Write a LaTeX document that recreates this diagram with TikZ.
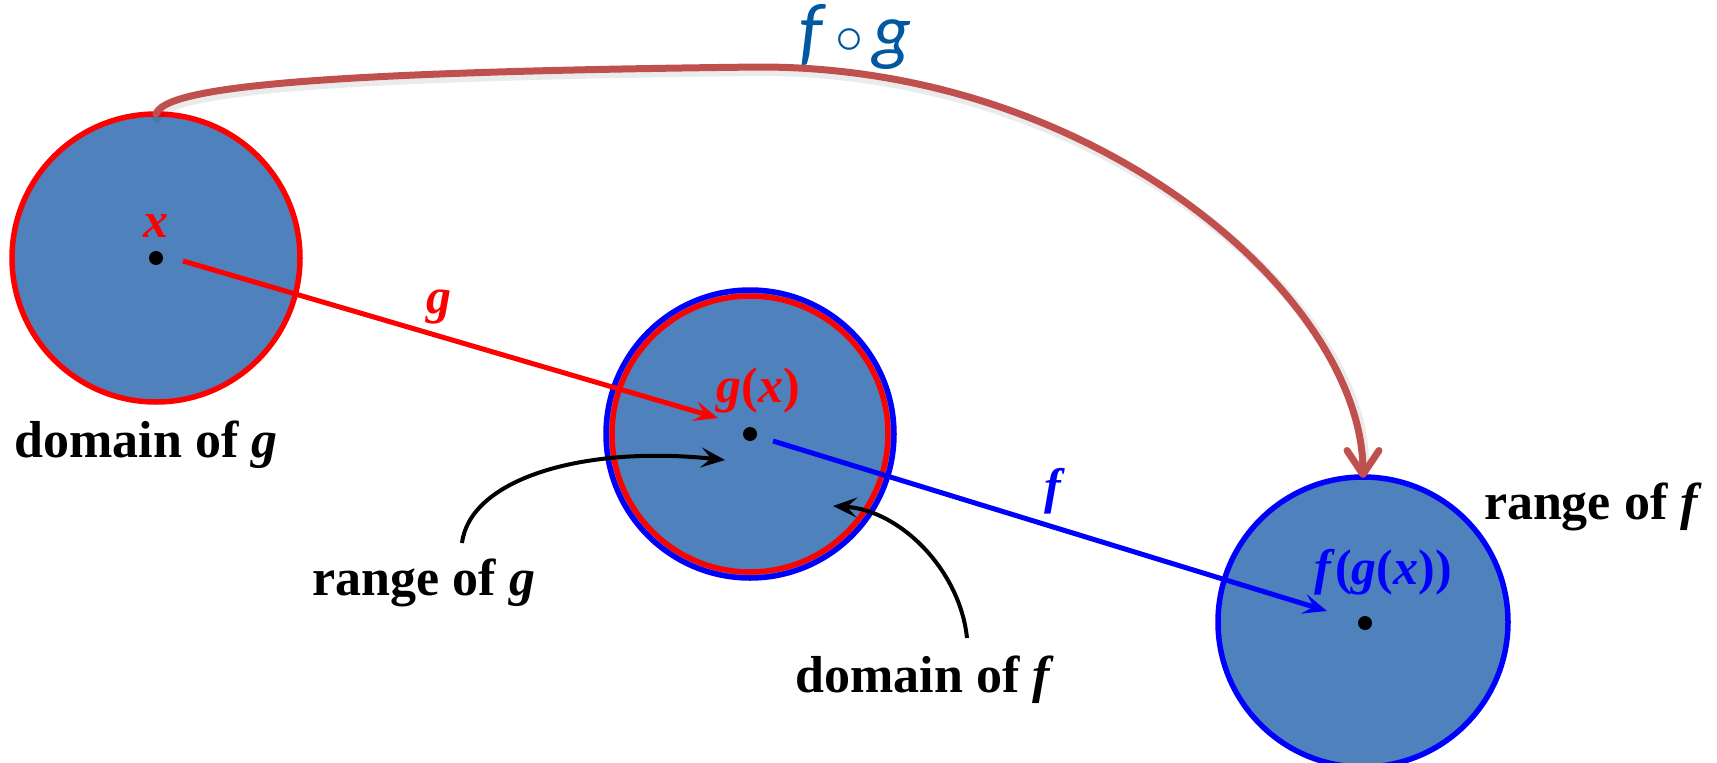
\RequirePackage{fix-cm}
\documentclass[tikz,border=0pt]{standalone}
\usepackage{fontspec}
\setmainfont{Liberation Serif}
\newfontfamily\carl{Carlito}
\usetikzlibrary{arrows.meta}
\definecolor{setfill}{RGB}{79,129,189}
\definecolor{comparc}{RGB}{192,80,77}
\definecolor{complbl}{RGB}{0,88,160}
\tikzset{
  setdisk/.style={circle, fill=setfill, minimum size=#1, inner sep=0pt},
  pt/.style={circle, fill=black, minimum size=14pt, inner sep=0pt},
  lbl/.style={font=\fontsize{52}{60}\selectfont\bfseries, inner sep=0pt, anchor=base},
  mlbl/.style={font=\fontsize{50}{58}\selectfont\bfseries\itshape, inner sep=0pt, anchor=base},
  garrow/.style={red, line width=5pt, -{Stealth[length=24pt, width=20pt, inset=10pt]}},
  farrow/.style={blue, line width=5pt, -{Stealth[length=24pt, width=20pt, inset=10pt]}},
  ptr/.style={black, line width=4pt, -{Stealth[length=24pt, width=20pt, inset=10pt]}},
  comp/.style={comparc, line width=7pt, line cap=round, -{Straight Barb[length=24pt, width=32pt, round]}},
}
\begin{document}
\begin{tikzpicture}[x=1pt, y=-1pt]
\useasboundingbox (0,0) rectangle (1717,763);
% sets
\node[setdisk=288pt, draw=red, line width=5.5pt] (A) at (156,258) {};
\node[setdisk=288pt, draw=blue, line width=5.5pt] (B) at (750,434) {};
\node[circle, minimum size=276pt, inner sep=0pt, draw=red, line width=5.5pt] (Bin) at (750,434) {};
\node[setdisk=290pt, draw=blue, line width=5.5pt] (C) at (1363,622) {};
% points
\node[pt] (px) at (156,258) {};
\node[pt] (pg) at (750,434) {};
\node[pt] (pf) at (1365,623) {};
% labels on points
\node[mlbl, text=red] (lx) at (156,237) {x};
\node[mlbl, text=red] (lgx) at (758,402) {g\textup{(}x\textup{)}};
\node[mlbl, text=blue] (lfgx) at (1383,584) {f\textup{(}g\textup{(}x\textup{))}};
% mapping arrows
\coordinate (gs) at (183,261);
\coordinate (ge) at (718,418);
\draw[garrow] (gs) -- (ge);
\node[mlbl, text=red] (lg) at (439,313) {g};
\coordinate (fs) at (773,441);
\coordinate (fe) at (1327,611);
\draw[farrow] (fs) -- (fe);
\node[mlbl, text=blue] (lf) at (1053,503) {f};
% composite arc
\coordinate (as) at (156,114);
\coordinate (am) at (760,67);
\coordinate (at) at (1363,478);
\draw[black, opacity=0.08, line width=10pt, line cap=round] ([shift={(1,4)}]as) .. controls (166,92) and (301,76) .. ([shift={(1,4)}]am) .. controls (1101,71) and (1364,304) .. (1364,462);
\draw[comp] (as) .. controls (165,88) and (300,72) .. (am) .. controls (1100,67) and (1363,300) .. (at);
\node[inner sep=0pt, anchor=base west, text=complbl, font=\fontsize{76}{80}\selectfont\carl\itshape] (lfg) at (799,56) {f\hspace{13pt}{\fontsize{56}{56}\selectfont\raisebox{3pt}{$\circ$}}\hspace{9pt}g};
% text labels
\node[lbl] (dg) at (146,457) {domain of \textit{g}};
\node[lbl] (rg) at (424,595) {range of \textit{g}};
\node[lbl] (df) at (925,692) {domain of \textit{f}};
\node[lbl] (rf) at (1593,519) {range of \textit{f}};
% pointers
\coordinate (rgs) at (462,543);
\coordinate (rge) at (725,460);
\draw[ptr] (rgs) .. controls (470,480) and (580,445) .. (rge);
\coordinate (dfs) at (967,638);
\coordinate (dfe) at (833,506);
\draw[ptr] (dfs) .. controls (960,570) and (900,510) .. (dfe);
\end{tikzpicture}
\end{document}
